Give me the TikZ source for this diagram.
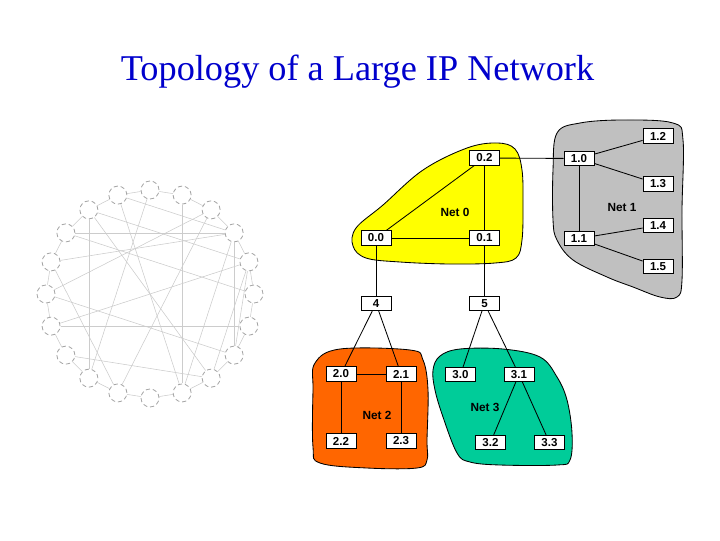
\documentclass[tikz,border=0pt]{standalone}
\usepackage{fontspec}
\setmainfont{Liberation Serif}
\setsansfont{Liberation Sans}
\usetikzlibrary{positioning}
\definecolor{titleblue}{RGB}{0,0,204}
\definecolor{netyellow}{RGB}{255,255,0}
\definecolor{netgray}{RGB}{192,192,192}
\definecolor{netorange}{RGB}{255,102,0}
\definecolor{netgreen}{RGB}{0,204,153}
\tikzset{router/.style={rectangle, draw, fill=white, minimum width=0.75cm, minimum height=0.36cm, inner sep=0pt, font=\sffamily\bfseries\fontsize{8.2}{10}\selectfont},
	host/.style={circle, draw=gray!70, densely dashed, minimum size=0.45cm, inner sep=0pt},
	netlabel/.style={font=\sffamily\bfseries\fontsize{8.4}{10}\selectfont},
	link/.style={draw=gray!40, line width=0.4pt},
	blob/.style={draw, line width=0.6pt}}

\begin{document}
\begin{tikzpicture}[x=0.025cm, y=-0.025cm, line width=0.6pt]
			\useasboundingbox (0,0) rectangle (720,540);
			\node[font=\fontsize{25.8}{30}\selectfont, text=titleblue, anchor=base] (title) at (357.5,80) {Topology of a Large IP Network};
			% Networks
			\path[blob, fill=netyellow] plot[smooth cycle, tension=0.6] coordinates {(497,143) (515,149) (522,170) (523,205) (522,240) (516,258) (495,263) (450,264) (400,262) (366,258) (353,246) (356,228) (383,205) (423,170) (467,148)};
			\path[blob, fill=netgray] plot[smooth cycle, tension=0.6] coordinates {(557,133) (580,123) (623,120) (673,123) (683,140) (682,210) (682,280) (677,297) (660,297) (633,287) (607,277) (573,260) (557,240) (553,220) (553,170)};
			\path[blob, fill=netorange] plot[smooth cycle, tension=0.6] coordinates {(340,349) (410,350) (423,360) (428,390) (427,440) (427,460) (417,468) (367,468) (320,463) (313,447) (313,390) (315,363)};
			\path[blob, fill=netgreen] plot[smooth cycle, tension=0.6] coordinates {(460,349) (503,349) (540,357) (557,377) (567,400) (572,433) (570,460) (557,465) (500,465) (470,462) (457,453) (443,417) (435,390) (433,370) (440,356)};
			% Routers
			\node[router] (n00) at (376,238) {0.0};
			\node[router] (n01) at (484.5,238) {0.1};
			\node[router] (n02) at (484.5,158) {0.2};
			\node[router] (n10) at (579,158.5) {1.0};
			\node[router] (n11) at (579,238.5) {1.1};
			\node[router] (n12) at (658,136) {1.2};
			\node[router] (n13) at (658,184) {1.3};
			\node[router] (n14) at (658,225.5) {1.4};
			\node[router] (n15) at (658,266.5) {1.5};
			\node[router] (n4) at (376,303.5) {4};
			\node[router] (n5) at (484.5,303.5) {5};
			\node[router] (n20) at (341,374) {2.0};
			\node[router] (n21) [right = 1.48cm - 0.75cm of n20] {2.1};
			\node[router] (n22) at (341,441) {2.2};
			\node[router] (n23) [right = 1.48cm - 0.75cm of n22] {2.3};
			\node[router] (n30) at (460.5,374.5) {3.0};
			\node[router] (n31) at (519,374.5) {3.1};
			\node[router] (n32) at (490.5,442.5) {3.2};
			\node[router] (n33) at (549.5,442.5) {3.3};
			\node[netlabel] (net0) at (455,212) {Net 0};
			\node[netlabel] (net1) at (622,207) {Net 1};
			\node[netlabel] (net2) at (377,415) {Net 2};
			\node[netlabel] (net3) at (485,407) {Net 3};
			% Links
			\path[draw]
			(n02) edge (n10)
			(n02) edge (n00)
			(n02) edge (n01)
			(n00) edge (n01)
			(n00) edge (n4)
			(n01) edge (n5)
			(n10) edge (n12)
			(n10) edge (n13)
			(n10) edge (n11)
			(n11) edge (n14)
			(n11) edge (n15)
			(n4) edge (n20)
			(n4) edge (n21)
			(n20) edge (n21)
			(n20) edge (n22)
			(n21) edge (n23)
			(n5) edge (n30)
			(n5) edge (n31)
			(n31) edge (n32)
			(n31) edge (n33);
			% Large network
			\foreach \i in {0,...,19}
				\node[host] (k\i) at ({150+104*cos(-90+18*\i)},{294+104*sin(-90+18*\i)}) {};
			\foreach \i [evaluate=\i as \j using {int(mod(\i+1,20))}] in {0,...,19}
				\draw[link] (k\i) -- (k\j);
			\foreach \a/\b in {19/3, 19/9, 0/12, 18/4, 18/8, 18/12, 17/3, 17/5, 16/3, 16/11, 15/2, 15/7, 14/4, 14/6, 13/8, 1/9, 3/7, 3/9, 4/8, 4/7, 11/2}
				\draw[link] (k\a) -- (k\b);
		\end{tikzpicture}
\end{document}
